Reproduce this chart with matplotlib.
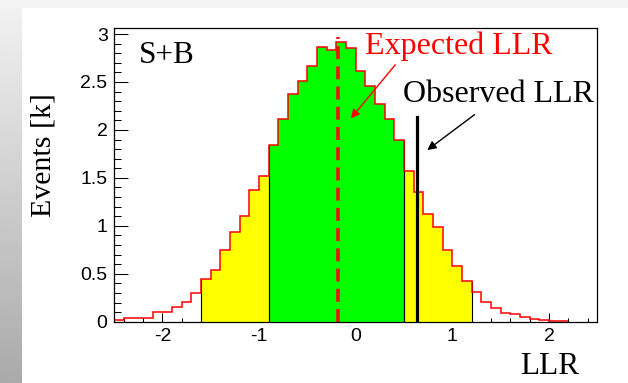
import numpy as np
import matplotlib
matplotlib.use("Agg")
import matplotlib.pyplot as plt
from matplotlib.patches import Rectangle
from matplotlib.ticker import MultipleLocator, FormatStrFormatter

# LLR histogram, 50 bins of width 0.1 from -2.5 to 2.5, contents in thousands of events
bin_edges = np.round(np.arange(-2.5, 2.5001, 0.1), 2)
events_k = np.array([
    0.015, 0.04, 0.04, 0.04, 0.10, 0.10, 0.155, 0.21, 0.30, 0.45,
    0.54, 0.75, 0.94, 1.10, 1.37, 1.52, 1.84, 2.11, 2.37, 2.51,
    2.67, 2.87, 2.83, 2.92, 2.85, 2.61, 2.46, 2.27, 2.11, 1.90,
    1.57, 1.35, 1.12, 0.99, 0.75, 0.58, 0.42, 0.31, 0.205, 0.145,
    0.095, 0.077, 0.05, 0.027, 0.015, 0.007, 0.007, 0.0, 0.0, 0.0,
])

# coloured bands (1 sigma green, 2 sigma yellow)
band_2s = (-1.6, 1.2)
band_1s = (-0.9, 0.5)

expected_llr = -0.18
observed_llr = 0.63
observed_top = 2.13

fig = plt.figure(figsize=(6.28, 3.83), dpi=100)

# canvas background: light strip on top, grey gradient down the left side
bg = fig.add_axes([0, 0, 1, 1], zorder=-10)
bg.set_xlim(0, 628)
bg.set_ylim(0, 383)
bg.axis("off")
bg.add_patch(Rectangle((0, 375.5), 628, 7.5, color="#f3f3f3", lw=0))
grad = np.linspace(0.667, 0.95, 256).reshape(-1, 1)
bg.imshow(grad, cmap="gray", vmin=0, vmax=1, origin="lower",
          extent=[0, 22, 0, 383], aspect="auto", interpolation="bilinear")

ax = fig.add_axes([114 / 628, 61.3 / 383, 483.4 / 628, 293.4 / 383])
ax.set_xlim(-2.5, 2.5)
ax.set_ylim(0, 3.06)


def band(lo, hi):
    centers = bin_edges[:-1] + 0.05
    sel = (centers > lo) & (centers < hi)
    idx = np.where(sel)[0]
    return events_k[idx], bin_edges[idx[0]:idx[-1] + 2]


for lo, hi, col in [(band_2s[0], band_1s[0], "#ffff00"),
                    (band_1s[0], band_1s[1], "#00ff00"),
                    (band_1s[1], band_2s[1], "#ffff00")]:
    v, e = band(lo, hi)
    ax.stairs(v, e, fill=True, facecolor=col, edgecolor="none", zorder=2)
    # thin black sides of each filled band
    ax.vlines([e[0], e[-1]], 0, [v[0], v[-1]], color="black", lw=0.8, zorder=2.5)

# red histogram outline over the non-empty range
nz = np.where(events_k > 0)[0]
ax.stairs(events_k[nz], bin_edges[nz[0]:nz[-1] + 2], baseline=None,
          color="#ff0000", lw=1.1, zorder=3)

ax.plot([expected_llr, expected_llr], [0, 2.97], color="#ee1111", lw=2.6,
        linestyle=(0, (3.6, 2.0)), zorder=4)
ax.plot([observed_llr, observed_llr], [0, observed_top], color="black",
        lw=2.3, zorder=4)

serif = ["Liberation Serif", "DejaVu Serif"]
ax.text(-2.24, 2.78, "S+B", family=serif, fontsize=22.5, va="center", ha="left")
ax.text(0.1, 2.87, "Expected LLR", family=serif, fontsize=23, color="#ff0000",
        va="center", ha="left")
ax.text(0.49, 2.37, "Observed LLR", family=serif, fontsize=23, color="black",
        va="center", ha="left")

ax.annotate("", xy=(-0.05, 2.12), xytext=(0.41, 2.68),
            arrowprops=dict(arrowstyle="-|>", color="#ff0000", lw=1.0,
                            mutation_scale=13, shrinkA=0, shrinkB=0), zorder=5)
ax.annotate("", xy=(0.74, 1.79), xytext=(1.23, 2.16),
            arrowprops=dict(arrowstyle="-|>", color="black", lw=1.0,
                            mutation_scale=13, shrinkA=0, shrinkB=0), zorder=5)

# axis titles, placed ROOT-style at the far end of each axis
ax.text(-0.145, 0.78, "Events [k]", transform=ax.transAxes, family=serif,
        fontsize=21.5, rotation=90, ha="center", va="top")
fig.text(579 / 628, (383 - 366) / 383, "LLR", family=serif, fontsize=22.5,
         ha="right", va="center")

ax.xaxis.set_major_locator(MultipleLocator(1))
ax.xaxis.set_minor_locator(MultipleLocator(0.2))
ax.yaxis.set_major_locator(MultipleLocator(0.5))
ax.yaxis.set_minor_locator(MultipleLocator(0.1))
ax.xaxis.set_major_formatter(FormatStrFormatter("%g"))
ax.yaxis.set_major_formatter(FormatStrFormatter("%g"))

ax.tick_params(axis="both", which="both", direction="in", top=False,
               right=False, width=0.75, labelsize=14, colors="black")
ax.tick_params(axis="x", which="major", length=6.8, pad=4.3)
ax.tick_params(axis="x", which="minor", length=2.9)
ax.tick_params(axis="y", which="major", length=10, pad=4.6)
ax.tick_params(axis="y", which="minor", length=4.7)
for lab in ax.get_xticklabels() + ax.get_yticklabels():
    lab.set_family(["Liberation Sans", "DejaVu Sans"])

for sp in ax.spines.values():
    sp.set_linewidth(0.9)
    sp.set_zorder(6)

fig.savefig("out.png", dpi=100)
